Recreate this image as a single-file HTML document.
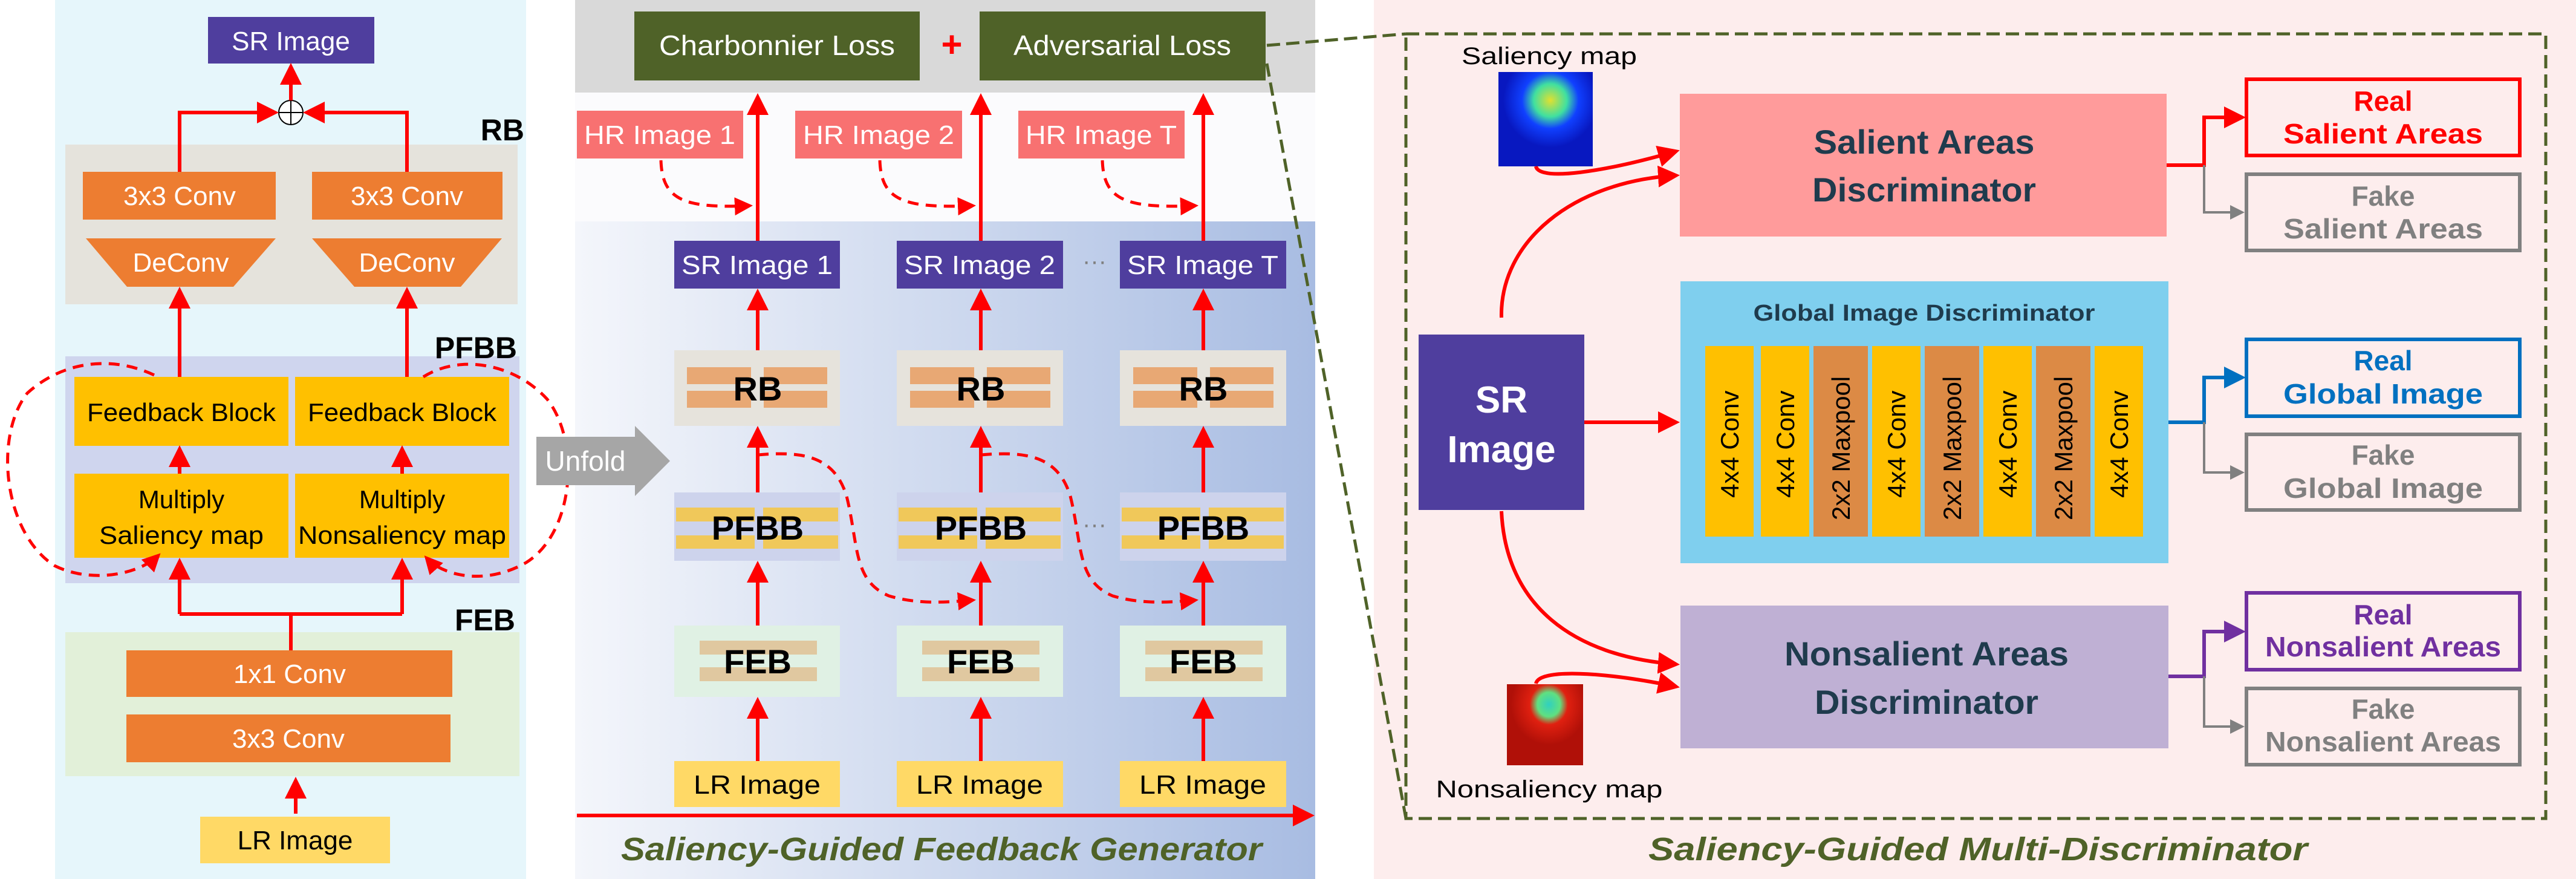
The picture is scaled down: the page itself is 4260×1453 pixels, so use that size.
<!DOCTYPE html>
<html><head><meta charset="utf-8"><style>
html,body{margin:0;padding:0;background:#fff}
svg{display:block}
text{font-family:"Liberation Sans",sans-serif}
</style></head><body>
<svg width="4260" height="1453" viewBox="0 0 4260 1453" xmlns="http://www.w3.org/2000/svg">
<defs>
<marker id="ar" markerWidth="6" markerHeight="6" refX="5" refY="3" orient="auto" markerUnits="strokeWidth"><path d="M0,0 L6,3 L0,6 Z" fill="#ff0000"/></marker>
<marker id="ag" markerWidth="6" markerHeight="6" refX="5" refY="3" orient="auto" markerUnits="strokeWidth"><path d="M0,0 L6,3 L0,6 Z" fill="#808080"/></marker>
<marker id="ab" markerWidth="6" markerHeight="6" refX="5" refY="3" orient="auto" markerUnits="strokeWidth"><path d="M0,0 L6,3 L0,6 Z" fill="#0070c0"/></marker>
<marker id="ap" markerWidth="6" markerHeight="6" refX="5" refY="3" orient="auto" markerUnits="strokeWidth"><path d="M0,0 L6,3 L0,6 Z" fill="#7030a0"/></marker>
<linearGradient id="mg" x1="0" y1="0" x2="1" y2="0"><stop offset="0" stop-color="#f4f6fb"/><stop offset="1" stop-color="#a8bce2"/></linearGradient>
<radialGradient id="sal" cx="0.55" cy="0.3" r="0.5"><stop offset="0" stop-color="#e0e030"/><stop offset="0.35" stop-color="#40e0a0"/><stop offset="0.6" stop-color="#1040ff"/><stop offset="1" stop-color="#0818c0"/></radialGradient>
<radialGradient id="nsal" cx="0.55" cy="0.25" r="0.5"><stop offset="0" stop-color="#30d0c0"/><stop offset="0.3" stop-color="#60e080"/><stop offset="0.5" stop-color="#e02010"/><stop offset="1" stop-color="#b01008"/></radialGradient>
</defs>

<rect x="91" y="0" width="779" height="1453" fill="#e6f6fb"/>
<rect x="951" y="0" width="1224" height="1453" fill="#fbfbfd"/>
<rect x="951" y="366" width="1224" height="1087" fill="url(#mg)"/>
<rect x="951" y="0" width="1224" height="153" fill="#d9d9d9"/>
<rect x="2272" y="0" width="1988" height="1453" fill="#fdeded"/>

<rect x="108" y="239" width="748" height="264" fill="#e5e3dc"/>
<rect x="108" y="589" width="751" height="375" fill="#cfd5ee"/>
<rect x="108" y="1045" width="751" height="238" fill="#e2f0d9"/>
<text x="867" y="232" font-size="50" font-weight="bold" text-anchor="end">RB</text>
<text x="855" y="592" font-size="50" font-weight="bold" text-anchor="end">PFBB</text>
<text x="852" y="1042" font-size="50" font-weight="bold" text-anchor="end">FEB</text>

<rect x="344" y="28" width="275" height="77" fill="#4f3e9e"/>
<text x="481" y="83" font-size="44" fill="#fff" text-anchor="middle">SR Image</text>
<circle cx="481" cy="186" r="20" fill="#fff" stroke="#000" stroke-width="2"/>
<line x1="461" y1="186" x2="501" y2="186" stroke="#000" stroke-width="2"/>
<line x1="481" y1="166" x2="481" y2="206" stroke="#000" stroke-width="2"/>
<line x1="481" y1="166" x2="481" y2="110" stroke="#f00" stroke-width="6" marker-end="url(#ar)"/>
<polyline points="297,284 297,186 455,186" fill="none" stroke="#f00" stroke-width="6" marker-end="url(#ar)"/>
<polyline points="673,284 673,186 507,186" fill="none" stroke="#f00" stroke-width="6" marker-end="url(#ar)"/>

<rect x="137" y="284" width="319" height="79" fill="#ed7d31"/>
<rect x="516" y="284" width="315" height="79" fill="#ed7d31"/>
<text x="297" y="339" font-size="44" fill="#fff" text-anchor="middle">3x3 Conv</text>
<text x="673" y="339" font-size="44" fill="#fff" text-anchor="middle">3x3 Conv</text>
<polygon points="142,394 456,394 386,474 210,474" fill="#ed7d31"/>
<polygon points="516,394 830,394 762,474 586,474" fill="#ed7d31"/>
<text x="299" y="449" font-size="44" fill="#fff" text-anchor="middle">DeConv</text>
<text x="673" y="449" font-size="44" fill="#fff" text-anchor="middle">DeConv</text>
<line x1="297" y1="623" x2="297" y2="480" stroke="#f00" stroke-width="6" marker-end="url(#ar)"/>
<line x1="673" y1="623" x2="673" y2="480" stroke="#f00" stroke-width="6" marker-end="url(#ar)"/>

<rect x="123" y="623" width="354" height="114" fill="#ffc000"/>
<rect x="488" y="623" width="354" height="114" fill="#ffc000"/>
<text x="300" y="696" font-size="42" text-anchor="middle" textLength="312" lengthAdjust="spacingAndGlyphs">Feedback Block</text>
<text x="665" y="696" font-size="42" text-anchor="middle" textLength="312" lengthAdjust="spacingAndGlyphs">Feedback Block</text>
<rect x="123" y="783" width="354" height="139" fill="#ffc000"/>
<rect x="488" y="783" width="354" height="139" fill="#ffc000"/>
<text x="300" y="840" font-size="42" text-anchor="middle">Multiply</text>
<text x="300" y="899" font-size="42" text-anchor="middle" textLength="272" lengthAdjust="spacingAndGlyphs">Saliency map</text>
<text x="665" y="840" font-size="42" text-anchor="middle">Multiply</text>
<text x="665" y="899" font-size="42" text-anchor="middle" textLength="344" lengthAdjust="spacingAndGlyphs">Nonsaliency map</text>
<line x1="297" y1="783" x2="297" y2="742" stroke="#f00" stroke-width="6" marker-end="url(#ar)"/>
<line x1="665" y1="783" x2="665" y2="742" stroke="#f00" stroke-width="6" marker-end="url(#ar)"/>

<path d="M255,620 C180,585 100,600 45,650 C-10,720 5,880 90,935 C150,965 230,950 262,918" fill="none" stroke="#f00" stroke-width="5" stroke-dasharray="18,12" marker-end="url(#ar)"/>
<path d="M700,623 C760,585 850,600 905,660 C960,730 950,880 870,930 C800,970 730,950 705,922" fill="none" stroke="#f00" stroke-width="5" stroke-dasharray="18,12" marker-end="url(#ar)"/>

<polyline points="297,1015 665,1015" fill="none" stroke="#f00" stroke-width="6"/>
<line x1="297" y1="1015" x2="297" y2="928" stroke="#f00" stroke-width="6" marker-end="url(#ar)"/>
<line x1="665" y1="1015" x2="665" y2="928" stroke="#f00" stroke-width="6" marker-end="url(#ar)"/>
<line x1="481" y1="1015" x2="481" y2="1075" stroke="#f00" stroke-width="6"/>

<rect x="209" y="1075" width="539" height="77" fill="#ed7d31"/>
<rect x="209" y="1181" width="536" height="79" fill="#ed7d31"/>
<text x="479" y="1129" font-size="44" fill="#fff" text-anchor="middle">1x1 Conv</text>
<text x="477" y="1236" font-size="44" fill="#fff" text-anchor="middle">3x3 Conv</text>
<rect x="331" y="1350" width="314" height="77" fill="#ffd966"/>
<text x="488" y="1404" font-size="44" text-anchor="middle">LR Image</text>
<line x1="489" y1="1345" x2="489" y2="1290" stroke="#f00" stroke-width="6" marker-end="url(#ar)"/>

<polygon points="887,722 1050,722 1050,704 1108,762 1050,820 1050,802 887,802" fill="#a6a6a6"/>
<text x="968" y="778" font-size="46" fill="#fff" text-anchor="middle">Unfold</text>

<rect x="1049" y="19" width="472" height="114" fill="#4f6228"/>
<rect x="1620" y="19" width="473" height="114" fill="#4f6228"/>
<text x="1285" y="91" font-size="46" fill="#fff" text-anchor="middle" textLength="390" lengthAdjust="spacingAndGlyphs">Charbonnier Loss</text>
<text x="1856" y="91" font-size="46" fill="#fff" text-anchor="middle" textLength="360" lengthAdjust="spacingAndGlyphs">Adversarial Loss</text>
<text x="1574" y="94" font-size="60" fill="#f00" text-anchor="middle" font-weight="bold">+</text>

<rect x="954" y="183" width="275" height="79" fill="#f87171"/>
<text x="1091" y="238" font-size="44" fill="#fff" text-anchor="middle" textLength="250" lengthAdjust="spacingAndGlyphs">HR Image 1</text>
<rect x="1315" y="183" width="276" height="79" fill="#f87171"/>
<text x="1453" y="238" font-size="44" fill="#fff" text-anchor="middle" textLength="250" lengthAdjust="spacingAndGlyphs">HR Image 2</text>
<rect x="1684" y="183" width="275" height="79" fill="#f87171"/>
<text x="1821" y="238" font-size="44" fill="#fff" text-anchor="middle" textLength="250" lengthAdjust="spacingAndGlyphs">HR Image T</text>

<line x1="1253" y1="398" x2="1253" y2="160" stroke="#f00" stroke-width="6" marker-end="url(#ar)"/>
<line x1="1622" y1="398" x2="1622" y2="160" stroke="#f00" stroke-width="6" marker-end="url(#ar)"/>
<line x1="1990" y1="398" x2="1990" y2="160" stroke="#f00" stroke-width="6" marker-end="url(#ar)"/>
<path d="M1093,265 C1095,330 1130,345 1240,340" fill="none" stroke="#f00" stroke-width="5" stroke-dasharray="18,12" marker-end="url(#ar)"/>
<path d="M1455,265 C1457,330 1492,345 1609,340" fill="none" stroke="#f00" stroke-width="5" stroke-dasharray="18,12" marker-end="url(#ar)"/>
<path d="M1823,265 C1825,330 1860,345 1977,340" fill="none" stroke="#f00" stroke-width="5" stroke-dasharray="18,12" marker-end="url(#ar)"/>

<rect x="1115" y="398" width="274" height="79" fill="#4f3e9e"/>
<rect x="1483" y="398" width="275" height="79" fill="#4f3e9e"/>
<rect x="1852" y="398" width="275" height="79" fill="#4f3e9e"/>
<text x="1252" y="453" font-size="44" fill="#fff" text-anchor="middle" textLength="250" lengthAdjust="spacingAndGlyphs">SR Image 1</text>
<text x="1620" y="453" font-size="44" fill="#fff" text-anchor="middle" textLength="250" lengthAdjust="spacingAndGlyphs">SR Image 2</text>
<text x="1989" y="453" font-size="44" fill="#fff" text-anchor="middle" textLength="250" lengthAdjust="spacingAndGlyphs">SR Image T</text>
<text x="1810" y="445" font-size="40" fill="#7f7f7f" text-anchor="middle">···</text>
<text x="1810" y="880" font-size="40" fill="#7f7f7f" text-anchor="middle">···</text>

<g>
<rect x="1115" y="579" width="274" height="125" fill="#e6e3dc"/>
<rect x="1136" y="607" width="106" height="28" fill="#e8a874"/><rect x="1263" y="607" width="105" height="28" fill="#e8a874"/>
<rect x="1136" y="646" width="106" height="28" fill="#e8a874"/><rect x="1263" y="646" width="105" height="28" fill="#e8a874"/>
<text x="1253" y="662" font-size="56" font-weight="bold" text-anchor="middle">RB</text>
<rect x="1483" y="579" width="275" height="125" fill="#e6e3dc"/>
<rect x="1505" y="607" width="106" height="28" fill="#e8a874"/><rect x="1632" y="607" width="105" height="28" fill="#e8a874"/>
<rect x="1505" y="646" width="106" height="28" fill="#e8a874"/><rect x="1632" y="646" width="105" height="28" fill="#e8a874"/>
<text x="1622" y="662" font-size="56" font-weight="bold" text-anchor="middle">RB</text>
<rect x="1852" y="579" width="275" height="125" fill="#e6e3dc"/>
<rect x="1874" y="607" width="106" height="28" fill="#e8a874"/><rect x="2001" y="607" width="105" height="28" fill="#e8a874"/>
<rect x="1874" y="646" width="106" height="28" fill="#e8a874"/><rect x="2001" y="646" width="105" height="28" fill="#e8a874"/>
<text x="1990" y="662" font-size="56" font-weight="bold" text-anchor="middle">RB</text>
</g>

<g>
<rect x="1115" y="814" width="274" height="113" fill="#cdd3ec"/>
<rect x="1118" y="839" width="130" height="23" fill="#f0c85a"/><rect x="1262" y="839" width="124" height="23" fill="#f0c85a"/>
<rect x="1118" y="885" width="130" height="22" fill="#f0c85a"/><rect x="1262" y="885" width="124" height="22" fill="#f0c85a"/>
<text x="1253" y="892" font-size="56" font-weight="bold" text-anchor="middle">PFBB</text>
<rect x="1483" y="814" width="275" height="113" fill="#cdd3ec"/>
<rect x="1486" y="839" width="130" height="23" fill="#f0c85a"/><rect x="1630" y="839" width="124" height="23" fill="#f0c85a"/>
<rect x="1486" y="885" width="130" height="22" fill="#f0c85a"/><rect x="1630" y="885" width="124" height="22" fill="#f0c85a"/>
<text x="1622" y="892" font-size="56" font-weight="bold" text-anchor="middle">PFBB</text>
<rect x="1852" y="814" width="275" height="113" fill="#cdd3ec"/>
<rect x="1855" y="839" width="130" height="23" fill="#f0c85a"/><rect x="1999" y="839" width="124" height="23" fill="#f0c85a"/>
<rect x="1855" y="885" width="130" height="22" fill="#f0c85a"/><rect x="1999" y="885" width="124" height="22" fill="#f0c85a"/>
<text x="1990" y="892" font-size="56" font-weight="bold" text-anchor="middle">PFBB</text>
</g>

<g>
<rect x="1115" y="1034" width="274" height="118" fill="#e0f1e4"/>
<rect x="1157" y="1059" width="194" height="23" fill="#e0c8a0"/><rect x="1157" y="1103" width="194" height="23" fill="#e0c8a0"/>
<text x="1253" y="1113" font-size="56" font-weight="bold" text-anchor="middle">FEB</text>
<rect x="1483" y="1034" width="275" height="118" fill="#e0f1e4"/>
<rect x="1525" y="1059" width="194" height="23" fill="#e0c8a0"/><rect x="1525" y="1103" width="194" height="23" fill="#e0c8a0"/>
<text x="1622" y="1113" font-size="56" font-weight="bold" text-anchor="middle">FEB</text>
<rect x="1852" y="1034" width="275" height="118" fill="#e0f1e4"/>
<rect x="1894" y="1059" width="194" height="23" fill="#e0c8a0"/><rect x="1894" y="1103" width="194" height="23" fill="#e0c8a0"/>
<text x="1990" y="1113" font-size="56" font-weight="bold" text-anchor="middle">FEB</text>
</g>

<rect x="1115" y="1258" width="274" height="76" fill="#ffd966"/>
<rect x="1483" y="1258" width="275" height="76" fill="#ffd966"/>
<rect x="1852" y="1258" width="275" height="76" fill="#ffd966"/>
<text x="1252" y="1312" font-size="44" text-anchor="middle" textLength="210" lengthAdjust="spacingAndGlyphs">LR Image</text>
<text x="1620" y="1312" font-size="44" text-anchor="middle" textLength="210" lengthAdjust="spacingAndGlyphs">LR Image</text>
<text x="1989" y="1312" font-size="44" text-anchor="middle" textLength="210" lengthAdjust="spacingAndGlyphs">LR Image</text>

<g stroke="#f00" stroke-width="6" marker-end="url(#ar)">
<line x1="1253" y1="579" x2="1253" y2="483"/><line x1="1622" y1="579" x2="1622" y2="483"/><line x1="1990" y1="579" x2="1990" y2="483"/>
<line x1="1253" y1="814" x2="1253" y2="710"/><line x1="1622" y1="814" x2="1622" y2="710"/><line x1="1990" y1="814" x2="1990" y2="710"/>
<line x1="1253" y1="1034" x2="1253" y2="933"/><line x1="1622" y1="1034" x2="1622" y2="933"/><line x1="1990" y1="1034" x2="1990" y2="933"/>
<line x1="1253" y1="1258" x2="1253" y2="1158"/><line x1="1622" y1="1258" x2="1622" y2="1158"/><line x1="1990" y1="1258" x2="1990" y2="1158"/>
<line x1="954" y1="1348" x2="2168" y2="1348"/>
</g>
<path d="M1253,752 C1330,745 1380,755 1400,820 C1420,900 1410,960 1470,985 C1520,1000 1570,995 1609,992" fill="none" stroke="#f00" stroke-width="5" stroke-dasharray="18,12" marker-end="url(#ar)"/>
<path d="M1622,752 C1700,745 1750,755 1770,820 C1790,900 1780,960 1840,985 C1890,1000 1940,995 1977,992" fill="none" stroke="#f00" stroke-width="5" stroke-dasharray="18,12" marker-end="url(#ar)"/>

<text x="1557" y="1422" font-size="54" font-weight="bold" font-style="italic" fill="#4f6228" text-anchor="middle" textLength="1060" lengthAdjust="spacingAndGlyphs">Saliency-Guided Feedback Generator</text>

<rect x="2325" y="56" width="1885" height="1297" fill="none" stroke="#4f6228" stroke-width="5" stroke-dasharray="22,10"/>
<line x1="2095" y1="75" x2="2325" y2="56" stroke="#4f6228" stroke-width="5" stroke-dasharray="22,10"/>
<line x1="2095" y1="105" x2="2325" y2="1353" stroke="#4f6228" stroke-width="5" stroke-dasharray="22,10"/>

<text x="2562" y="106" font-size="40" text-anchor="middle" textLength="290" lengthAdjust="spacingAndGlyphs">Saliency map</text>
<rect x="2478" y="119" width="156" height="156" fill="url(#sal)"/>
<text x="2562" y="1318" font-size="40" text-anchor="middle" textLength="375" lengthAdjust="spacingAndGlyphs">Nonsaliency map</text>
<rect x="2492" y="1131" width="126" height="134" fill="url(#nsal)"/>

<rect x="2778" y="155" width="805" height="236" fill="#ff9b9b"/>
<text x="3182" y="254" font-size="56" font-weight="bold" fill="#1f3b4d" text-anchor="middle" textLength="365" lengthAdjust="spacingAndGlyphs">Salient Areas</text>
<text x="3182" y="333" font-size="56" font-weight="bold" fill="#1f3b4d" text-anchor="middle" textLength="370" lengthAdjust="spacingAndGlyphs">Discriminator</text>

<rect x="2779" y="465" width="807" height="466" fill="#7fcfee"/>
<text x="3182" y="530" font-size="38" font-weight="bold" fill="#1f3b4d" text-anchor="middle" textLength="565" lengthAdjust="spacingAndGlyphs">Global Image Discriminator</text>
<g font-size="42">
<rect x="2820" y="572" width="80" height="315" fill="#ffc000"/>
<rect x="2912" y="572" width="80" height="315" fill="#ffc000"/>
<rect x="2999" y="572" width="90" height="315" fill="#dc8a45"/>
<rect x="3096" y="572" width="80" height="315" fill="#ffc000"/>
<rect x="3183" y="572" width="90" height="315" fill="#dc8a45"/>
<rect x="3280" y="572" width="80" height="315" fill="#ffc000"/>
<rect x="3367" y="572" width="90" height="315" fill="#dc8a45"/>
<rect x="3464" y="572" width="80" height="315" fill="#ffc000"/>
<text transform="translate(2875,823) rotate(-90)">4x4 Conv</text>
<text transform="translate(2967,823) rotate(-90)">4x4 Conv</text>
<text transform="translate(3059,860) rotate(-90)">2x2 Maxpool</text>
<text transform="translate(3151,823) rotate(-90)">4x4 Conv</text>
<text transform="translate(3243,860) rotate(-90)">2x2 Maxpool</text>
<text transform="translate(3335,823) rotate(-90)">4x4 Conv</text>
<text transform="translate(3427,860) rotate(-90)">2x2 Maxpool</text>
<text transform="translate(3519,823) rotate(-90)">4x4 Conv</text>
</g>

<rect x="2779" y="1001" width="807" height="236" fill="#bfb0d4"/>
<text x="3186" y="1100" font-size="56" font-weight="bold" fill="#1f3b4d" text-anchor="middle" textLength="470" lengthAdjust="spacingAndGlyphs">Nonsalient Areas</text>
<text x="3186" y="1180" font-size="56" font-weight="bold" fill="#1f3b4d" text-anchor="middle" textLength="370" lengthAdjust="spacingAndGlyphs">Discriminator</text>

<rect x="2346" y="553" width="274" height="290" fill="#4f3e9e"/>
<text x="2483" y="682" font-size="62" font-weight="bold" fill="#fff" text-anchor="middle">SR</text>
<text x="2483" y="764" font-size="62" font-weight="bold" fill="#fff" text-anchor="middle">Image</text>

<g fill="none" stroke="#f00" stroke-width="6" marker-end="url(#ar)">
<line x1="2620" y1="698" x2="2772" y2="698"/>
<path d="M2483,525 C2480,400 2600,300 2772,290"/>
<path d="M2540,275 C2545,300 2650,285 2772,250"/>
<path d="M2483,845 C2490,1000 2600,1085 2772,1098"/>
<path d="M2540,1130 C2545,1105 2650,1110 2772,1135"/>
</g>

<rect x="3715" y="131" width="452" height="126" fill="none" stroke="#f00" stroke-width="6"/>
<text x="3941" y="183" font-size="46" font-weight="bold" fill="#f00" text-anchor="middle">Real</text>
<text x="3941" y="237" font-size="46" font-weight="bold" fill="#f00" text-anchor="middle" textLength="330" lengthAdjust="spacingAndGlyphs">Salient Areas</text>
<rect x="3715" y="288" width="452" height="126" fill="none" stroke="#808080" stroke-width="6"/>
<text x="3941" y="340" font-size="46" font-weight="bold" fill="#808080" text-anchor="middle">Fake</text>
<text x="3941" y="394" font-size="46" font-weight="bold" fill="#808080" text-anchor="middle" textLength="330" lengthAdjust="spacingAndGlyphs">Salient Areas</text>

<rect x="3715" y="561" width="452" height="127" fill="none" stroke="#0070c0" stroke-width="6"/>
<text x="3941" y="612" font-size="46" font-weight="bold" fill="#0070c0" text-anchor="middle">Real</text>
<text x="3941" y="667" font-size="46" font-weight="bold" fill="#0070c0" text-anchor="middle" textLength="330" lengthAdjust="spacingAndGlyphs">Global Image</text>
<rect x="3715" y="718" width="452" height="125" fill="none" stroke="#808080" stroke-width="6"/>
<text x="3941" y="768" font-size="46" font-weight="bold" fill="#808080" text-anchor="middle">Fake</text>
<text x="3941" y="823" font-size="46" font-weight="bold" fill="#808080" text-anchor="middle" textLength="330" lengthAdjust="spacingAndGlyphs">Global Image</text>

<rect x="3715" y="980" width="452" height="127" fill="none" stroke="#7030a0" stroke-width="6"/>
<text x="3941" y="1032" font-size="46" font-weight="bold" fill="#7030a0" text-anchor="middle">Real</text>
<text x="3941" y="1085" font-size="46" font-weight="bold" fill="#7030a0" text-anchor="middle" textLength="390" lengthAdjust="spacingAndGlyphs">Nonsalient Areas</text>
<rect x="3715" y="1138" width="452" height="126" fill="none" stroke="#808080" stroke-width="6"/>
<text x="3941" y="1188" font-size="46" font-weight="bold" fill="#808080" text-anchor="middle">Fake</text>
<text x="3941" y="1242" font-size="46" font-weight="bold" fill="#808080" text-anchor="middle" textLength="390" lengthAdjust="spacingAndGlyphs">Nonsalient Areas</text>

<polyline points="3583,273 3645,273 3645,194 3708,194" fill="none" stroke="#f00" stroke-width="6" marker-end="url(#ar)"/>
<polyline points="3645,273 3645,351 3708,351" fill="none" stroke="#808080" stroke-width="4" marker-end="url(#ag)"/>
<polyline points="3586,698 3645,698 3645,624 3708,624" fill="none" stroke="#0070c0" stroke-width="6" marker-end="url(#ab)"/>
<polyline points="3645,698 3645,781 3708,781" fill="none" stroke="#808080" stroke-width="4" marker-end="url(#ag)"/>
<polyline points="3586,1118 3645,1118 3645,1044 3708,1044" fill="none" stroke="#7030a0" stroke-width="6" marker-end="url(#ap)"/>
<polyline points="3645,1118 3645,1201 3708,1201" fill="none" stroke="#808080" stroke-width="4" marker-end="url(#ag)"/>

<text x="3271" y="1422" font-size="54" font-weight="bold" font-style="italic" fill="#4f6228" text-anchor="middle" textLength="1090" lengthAdjust="spacingAndGlyphs">Saliency-Guided Multi-Discriminator</text>
</svg>
</body></html>
